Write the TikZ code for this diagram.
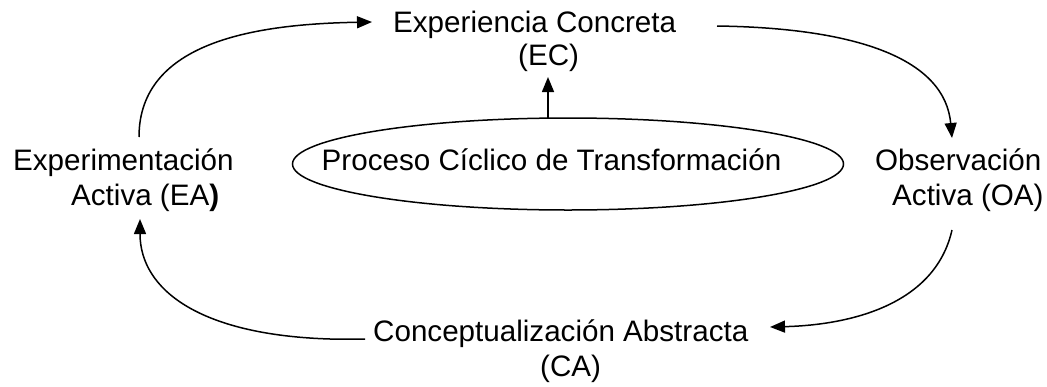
\documentclass[tikz,border=0pt]{standalone}
\usepackage{fontspec}
\setmainfont{Liberation Sans}
\usetikzlibrary{arrows.meta,shapes.geometric}
\begin{document}
\begin{tikzpicture}[x=1pt,y=-1pt,
  lbl/.style={font=\fontsize{29.6}{35}\selectfont, inner sep=0pt, align=left, anchor=base west},
  flow/.style={line width=1.5pt, -{Triangle[length=15pt,width=12pt]}},
  ring/.style={draw, ellipse, line width=1.5pt, inner sep=0pt}]
\useasboundingbox (0,0) rectangle (1047,386);
% labels (anchor = baseline of the last line)
\node[lbl] (ec) at (393,65) {Experiencia Concreta\\[-2pt]\hspace*{125pt}(EC)};
\node[lbl] (ea) at (13,205) {Experimentación\\\hspace*{58pt}Activa (EA\textbf{)}};
\node[lbl] (oa) at (875,205) {Observación\\\hspace*{17pt}Activa (OA)};
\node[lbl] (ca) at (373,376) {Conceptualización Abstracta\\\hspace*{167pt}(CA)};
% center ellipse
\node[ring, minimum width=551pt, minimum height=92pt] (pct) at (568,164) {};
\node[font=\fontsize{29.6}{35}\selectfont, inner sep=0pt, anchor=base] (pcttxt) at (551.5,170) {Proceso Cíclico de Transformación};
% connector end points
\coordinate (eaout) at (139,137);
\coordinate (ecin) at (372,22);
\coordinate (ecout) at (717,26);
\coordinate (oain) at (952,138);
\coordinate (oaout) at (952,230);
\coordinate (cain) at (770,327);
\coordinate (caout) at (365,339);
\coordinate (eain) at (140,219);
\coordinate (pctup) at (548,118);
\coordinate (ecbot) at (548,77);
% connectors
\draw[flow] (eaout) .. controls (139,40) and (260,24) .. (ecin);
\draw[flow] (ecout) .. controls (860,28) and (945,60) .. (oain);
\draw[flow] (oaout) .. controls (935,305) and (850,325) .. (cain);
\draw[flow] (caout) -- (330,339) .. controls (200,335) and (140,290) .. (eain);
\draw[flow] (pctup) -- (ecbot);
\end{tikzpicture}
\end{document}
